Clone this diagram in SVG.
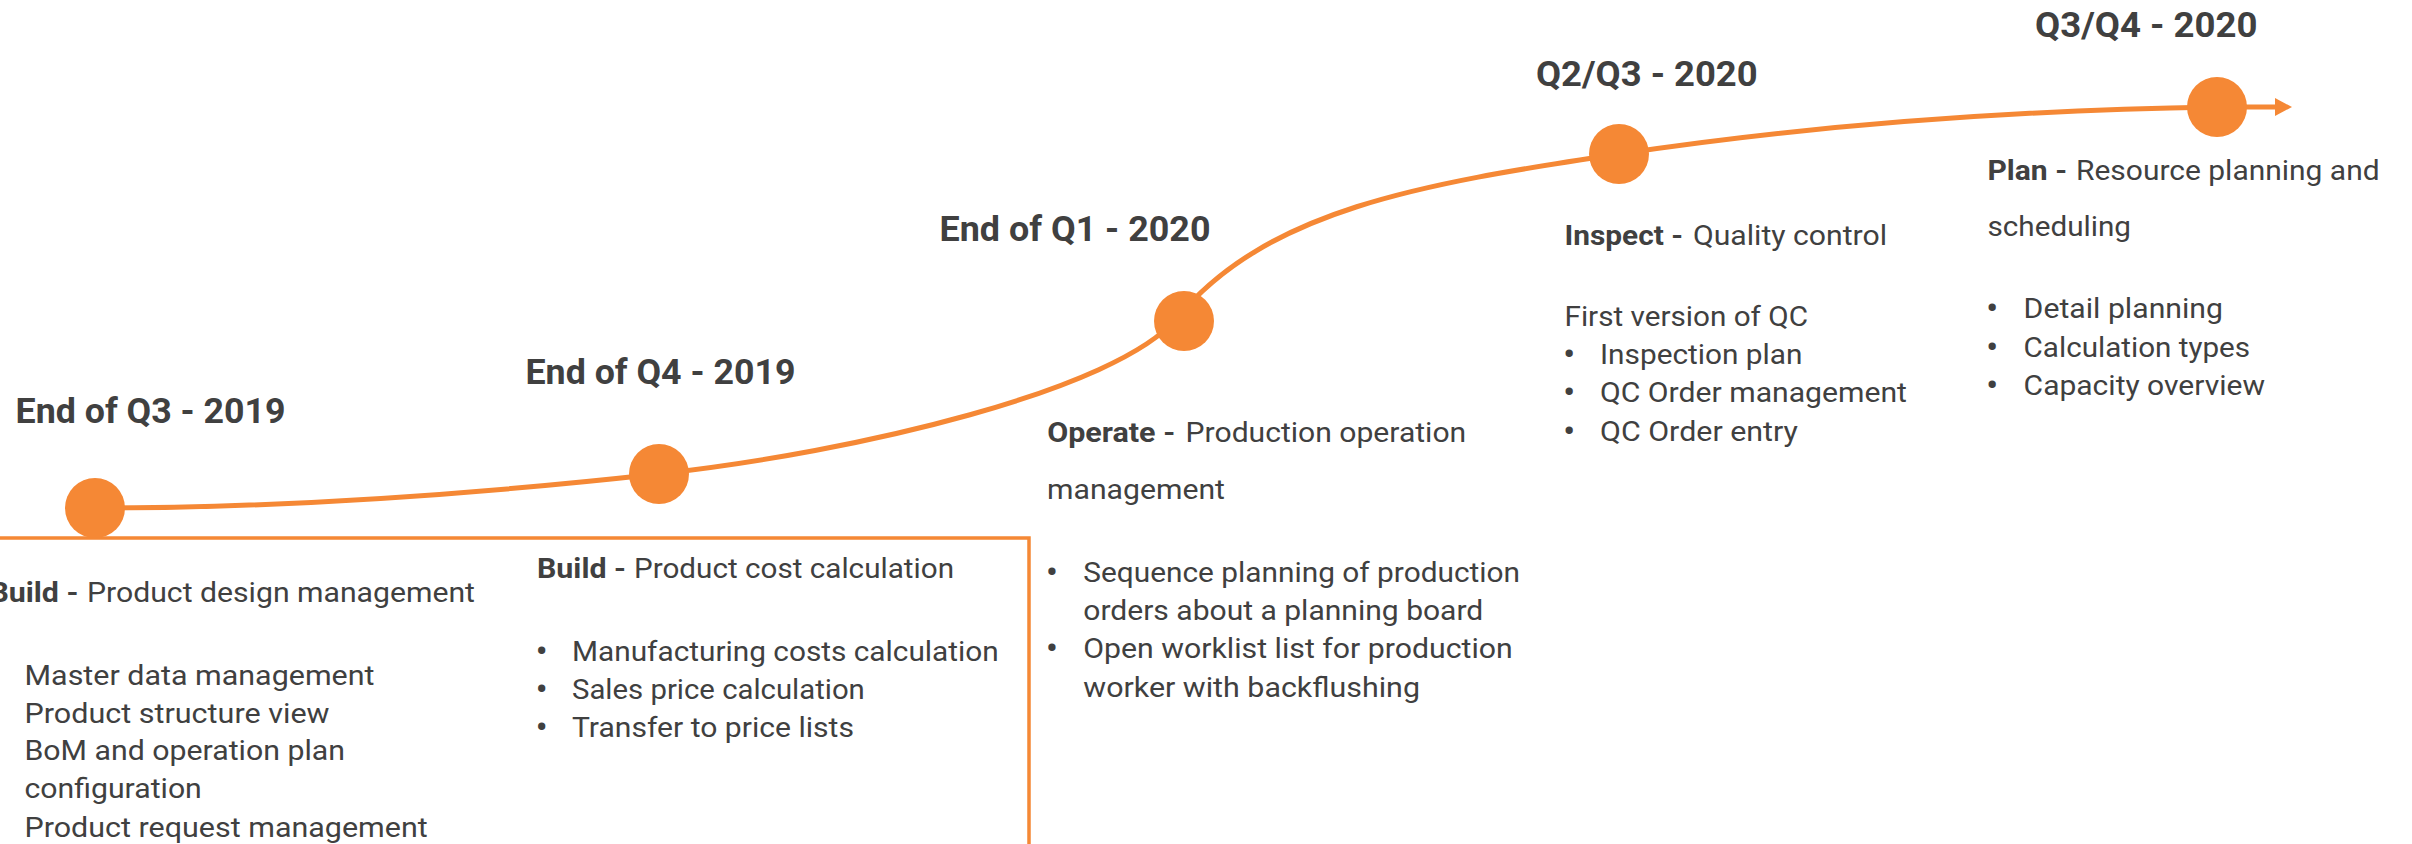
<svg xmlns="http://www.w3.org/2000/svg" width="2412" height="844" viewBox="0 0 2412 844">
<style>
.t{font-family:Roboto,"Liberation Sans",sans-serif;fill:#404040}
.title{font-size:35px;font-weight:700}
.b{font-size:27px;font-weight:700}
.r{font-size:27px;font-weight:400}
.bul{font-size:31px;font-weight:700;text-anchor:middle}
.dot{fill:#F58835}
.line{fill:none;stroke:#F58835;stroke-width:5}
.frame{fill:none;stroke:#F58835;stroke-width:3.5}
</style>
<defs>
<marker id="arrow" markerUnits="userSpaceOnUse" markerWidth="18" markerHeight="20" refX="0" refY="9" orient="auto">
<path d="M0,0 L17,9 L0,18 z" fill="#F58835"/>
</marker>
</defs>
<rect width="2412" height="844" fill="#ffffff"/>
<g id="build-frame">
<path class="frame" d="M0,538 H1029 V844"/>
</g>
<g id="connectors">
<path class="line" marker-end="url(#arrow)" d="M95,508 C285,508 468,495 658,474 C858,452 1117,390 1177,318 C1267,210 1419,184 1619,154 C1819,124 2017,110 2217,107 L2275,107"/>
</g>
<g id="n-q3-2019">
<circle class="dot" cx="95" cy="508" r="30"/>
<text class="t title" x="15.6" y="423" textLength="270" lengthAdjust="spacingAndGlyphs">End of Q3 - 2019</text>
<text class="t b" x="-10.6" y="602" textLength="89" lengthAdjust="spacingAndGlyphs">Build -</text>
<text class="t r" x="87" y="602" textLength="388" lengthAdjust="spacingAndGlyphs">Product design management</text>
<text class="t r" x="24.5" y="685" textLength="350" lengthAdjust="spacingAndGlyphs">Master data management</text>
<text class="t r" x="24.5" y="723" textLength="305" lengthAdjust="spacingAndGlyphs">Product structure view</text>
<text class="t r" x="24.5" y="760" textLength="320.5" lengthAdjust="spacingAndGlyphs">BoM and operation plan</text>
<text class="t r" x="24.5" y="798" textLength="177.3" lengthAdjust="spacingAndGlyphs">configuration</text>
<text class="t r" x="24.5" y="836.5" textLength="403.2" lengthAdjust="spacingAndGlyphs">Product request management</text>
</g>
<g id="n-q4-2019">
<circle class="dot" cx="659" cy="474" r="30"/>
<text class="t title" x="525.5" y="384" textLength="270" lengthAdjust="spacingAndGlyphs">End of Q4 - 2019</text>
<text class="t b" x="537" y="578" textLength="89" lengthAdjust="spacingAndGlyphs">Build -</text>
<text class="t r" x="634" y="578" textLength="320" lengthAdjust="spacingAndGlyphs">Product cost calculation</text>
<text class="t bul" x="541.5" y="661.5">•</text>
<text class="t r" x="572" y="660.5" textLength="426.7" lengthAdjust="spacingAndGlyphs">Manufacturing costs calculation</text>
<text class="t bul" x="541.5" y="699.5">•</text>
<text class="t r" x="572" y="698.5" textLength="292.8" lengthAdjust="spacingAndGlyphs">Sales price calculation</text>
<text class="t bul" x="541.5" y="737.5">•</text>
<text class="t r" x="572" y="736.5" textLength="282" lengthAdjust="spacingAndGlyphs">Transfer to price lists</text>
</g>
<g id="n-q1-2020">
<circle class="dot" cx="1184" cy="321" r="30"/>
<text class="t title" x="939.5" y="240.7" textLength="271" lengthAdjust="spacingAndGlyphs">End of Q1 - 2020</text>
<text class="t b" x="1047.2" y="441.7" textLength="128" lengthAdjust="spacingAndGlyphs">Operate -</text>
<text class="t r" x="1185.6" y="441.7" textLength="280.6" lengthAdjust="spacingAndGlyphs">Production operation</text>
<text class="t r" x="1047" y="499" textLength="178" lengthAdjust="spacingAndGlyphs">management</text>
<text class="t bul" x="1051.7" y="583">•</text>
<text class="t r" x="1083.3" y="582" textLength="436.7" lengthAdjust="spacingAndGlyphs">Sequence planning of production</text>
<text class="t r" x="1083.3" y="620" textLength="400" lengthAdjust="spacingAndGlyphs">orders about a planning board</text>
<text class="t bul" x="1051.7" y="659">•</text>
<text class="t r" x="1083.3" y="658" textLength="429.4" lengthAdjust="spacingAndGlyphs">Open worklist list for production</text>
<text class="t r" x="1083.3" y="696.5" textLength="336.7" lengthAdjust="spacingAndGlyphs">worker with backflushing</text>
</g>
<g id="n-q2q3-2020">
<circle class="dot" cx="1619" cy="154" r="30"/>
<text class="t title" x="1536" y="86" textLength="221.7" lengthAdjust="spacingAndGlyphs">Q2/Q3 - 2020</text>
<text class="t b" x="1564.5" y="244.5" textLength="118.5" lengthAdjust="spacingAndGlyphs">Inspect -</text>
<text class="t r" x="1693" y="244.5" textLength="194" lengthAdjust="spacingAndGlyphs">Quality control</text>
<text class="t r" x="1564.5" y="325.5" textLength="243.5" lengthAdjust="spacingAndGlyphs">First version of QC</text>
<text class="t bul" x="1569" y="364.5">•</text>
<text class="t r" x="1600" y="363.5" textLength="202.5" lengthAdjust="spacingAndGlyphs">Inspection plan</text>
<text class="t bul" x="1569" y="403">•</text>
<text class="t r" x="1600" y="402" textLength="307" lengthAdjust="spacingAndGlyphs">QC Order management</text>
<text class="t bul" x="1569" y="441.5">•</text>
<text class="t r" x="1600" y="440.5" textLength="198" lengthAdjust="spacingAndGlyphs">QC Order entry</text>
</g>
<g id="n-q3q4-2020">
<circle class="dot" cx="2217" cy="107" r="30"/>
<text class="t title" x="2035" y="36.7" textLength="222.4" lengthAdjust="spacingAndGlyphs">Q3/Q4 - 2020</text>
<text class="t b" x="1987.5" y="180" textLength="79.5" lengthAdjust="spacingAndGlyphs">Plan -</text>
<text class="t r" x="2076" y="180" textLength="303.6" lengthAdjust="spacingAndGlyphs">Resource planning and</text>
<text class="t r" x="1987.5" y="236" textLength="143.5" lengthAdjust="spacingAndGlyphs">scheduling</text>
<text class="t bul" x="1992" y="319.3">•</text>
<text class="t r" x="2023.6" y="318.3" textLength="199.4" lengthAdjust="spacingAndGlyphs">Detail planning</text>
<text class="t bul" x="1992" y="357.7">•</text>
<text class="t r" x="2023.6" y="356.7" textLength="226.4" lengthAdjust="spacingAndGlyphs">Calculation types</text>
<text class="t bul" x="1992" y="396">•</text>
<text class="t r" x="2023.6" y="395" textLength="241.4" lengthAdjust="spacingAndGlyphs">Capacity overview</text>
</g>
</svg>
